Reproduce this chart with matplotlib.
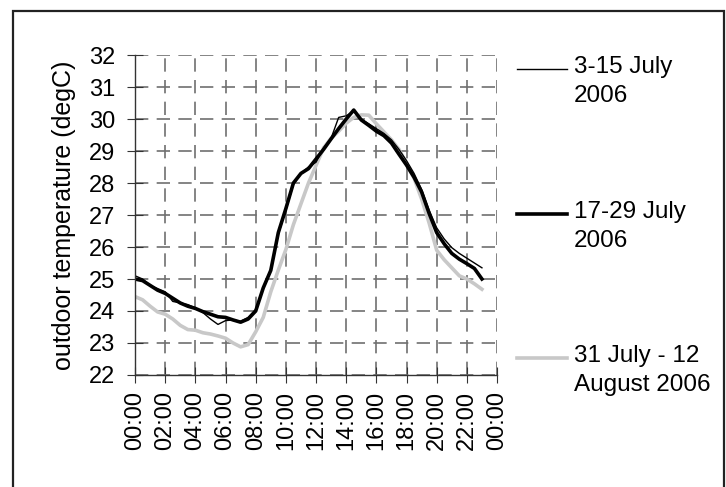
import numpy as np
import matplotlib
matplotlib.use('Agg')
import matplotlib.pyplot as plt
from matplotlib.lines import Line2D
from matplotlib.patches import Rectangle

plt.rcParams['font.family'] = ['Liberation Sans', 'DejaVu Sans']

# half-hourly mean outdoor temperature, 00:00 .. 23:00
hours = np.arange(0, 23.5, 0.5)

t_3_15_july = [25.1, 25.0, 24.8, 24.7, 24.6, 24.3, 24.25, 24.2, 24.1, 23.95,
               23.75, 23.58, 23.7, 23.72, 23.68, 23.8, 24.05, 24.7, 25.3, 26.4,
               27.15, 27.95, 28.3, 28.5, 28.65, 29.1, 29.4, 30.05, 30.1, 30.25,
               30.0, 29.85, 29.7, 29.55, 29.35, 29.05, 28.7, 28.3, 27.8, 27.15,
               26.6, 26.25, 25.98, 25.8, 25.65, 25.5, 25.35]

t_17_29_july = [25.0, 24.95, 24.8, 24.65, 24.55, 24.4, 24.25, 24.15, 24.08, 23.98,
                23.9, 23.82, 23.8, 23.72, 23.65, 23.75, 24.0, 24.72, 25.27, 26.45,
                27.2, 28.0, 28.3, 28.45, 28.75, 29.05, 29.38, 29.7, 30.0, 30.28,
                29.97, 29.8, 29.62, 29.48, 29.25, 28.9, 28.56, 28.18, 27.72, 27.05,
                26.45, 26.1, 25.8, 25.62, 25.48, 25.33, 25.0]

t_31jul_12aug = [24.45, 24.35, 24.15, 23.97, 23.9, 23.75, 23.55, 23.42, 23.4, 23.32,
                 23.28, 23.22, 23.15, 23.0, 22.88, 22.95, 23.35, 23.8, 24.6, 25.28,
                 25.92, 26.7, 27.35, 28.0, 28.55, 29.1, 29.4, 29.62, 29.87, 30.05,
                 30.13, 30.12, 29.85, 29.6, 29.35, 29.05, 28.6, 28.15, 27.5, 26.75,
                 25.9, 25.6, 25.35, 25.1, 25.0, 24.85, 24.68]

tick_hours = np.arange(0, 25, 2)
tick_labels = ['00:00', '02:00', '04:00', '06:00', '08:00', '10:00', '12:00',
               '14:00', '16:00', '18:00', '20:00', '22:00', '00:00']

series = [
    ('3-15 July\n2006', t_3_15_july, 'black', 1.0),
    ('17-29 July\n2006', t_17_29_july, 'black', 2.6),
    ('31 July - 12\nAugust 2006', t_31jul_12aug, '#c8c8c8', 2.6),
]

fig = plt.figure(figsize=(7.26, 4.87), dpi=100)
ax = fig.add_axes([0.186, 0.23, 0.4986, 0.657])

# grey series first so the black ones sit on top
for label, vals, col, lw in series[::-1]:
    ax.plot(hours, vals, color=col, linewidth=lw, solid_joinstyle='round')

ax.set_xlim(0, 24)
ax.set_ylim(22, 32)
ax.set_xticks(tick_hours)
ax.set_xticklabels(tick_labels, rotation=90, fontsize=17)
ax.set_yticks(np.arange(22, 33, 1))
ax.tick_params(axis='y', labelsize=17, direction='inout', length=11, pad=9, color='#333333')
ax.tick_params(axis='x', direction='inout', length=11, pad=6, color='#333333')
ax.set_ylabel('outdoor temperature (degC)', fontsize=18, labelpad=9)

ax.grid(True, linestyle=(0, (8, 5)), color='#707070', linewidth=1.2)
ax.set_axisbelow(True)
ax.spines['top'].set_visible(False)
ax.spines['right'].set_visible(False)
for s in ('left', 'bottom'):
    ax.spines[s].set_color('#333333')
    ax.spines[s].set_linewidth(1.0)

# legend drawn by hand: handle level with first text line
W, H = 726.0, 487.0
legend_y = [69, 214, 358]
for (label, vals, col, lw), yy in zip(series, legend_y):
    fig.add_artist(Line2D([517 / W, 567 / W], [1 - yy / H, 1 - yy / H],
                          color=col, linewidth=lw))
    fig.text(574 / W, 1 - (yy - 13) / H, label, fontsize=17.5, va='top',
             ha='left', linespacing=1.4)

# outer frame around the chart
fig.add_artist(Rectangle((13 / W, -0.05), (724 - 13) / W, 1.05 - 11 / H,
                         transform=fig.transFigure, fill=False,
                         edgecolor='#222222', linewidth=1.6))

fig.savefig('out.png', dpi=100)
